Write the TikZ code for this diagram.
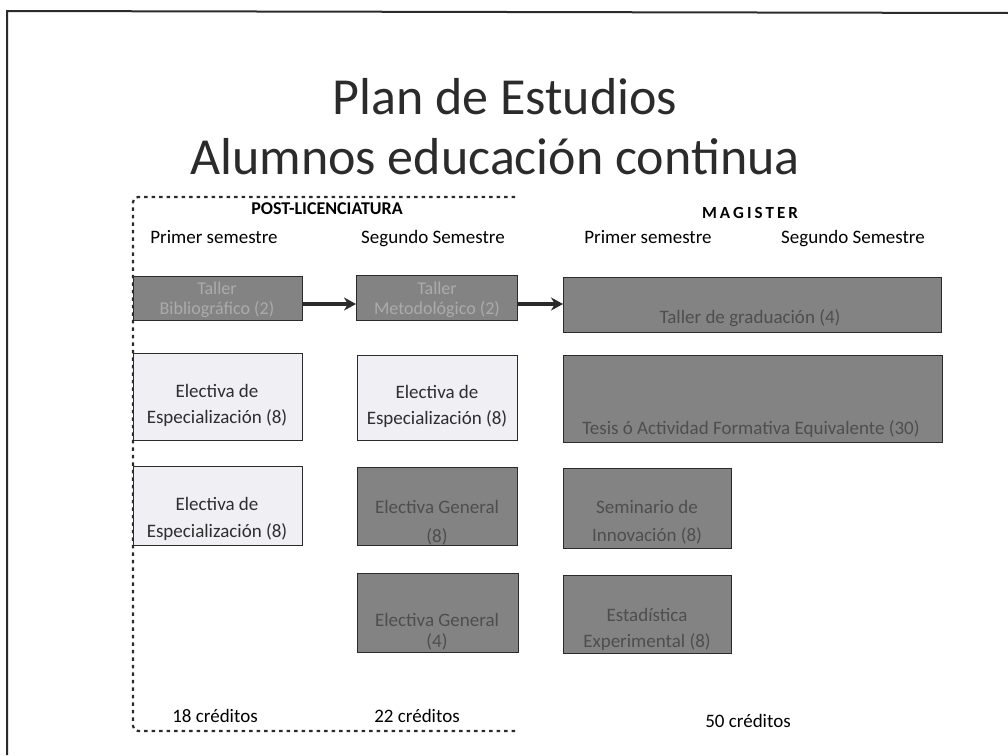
\documentclass[tikz,border=0pt]{standalone}
\usepackage{fontspec}
\setmainfont{Carlito}
\usetikzlibrary{arrows.meta}
\definecolor{frame}{HTML}{2B2B2B}
\definecolor{darkfill}{HTML}{838383}
\definecolor{lightfill}{HTML}{EFEFF4}
\definecolor{palet}{HTML}{ABABAB}
\definecolor{deept}{HTML}{4E4E4E}
\definecolor{lightt}{HTML}{2E2E2E}
\begin{document}
\begin{tikzpicture}[x=1pt,y=-1pt,
  box/.style={draw=frame, line width=1.4pt, anchor=north west, inner sep=0pt},
  dbox/.style={box, fill=darkfill},
  lbox/.style={box, fill=lightfill},
  btxt/.style={align=center, inner sep=0pt, anchor=base},
  pale/.style={btxt, text=palet},
  deep/.style={btxt, text=deept},
  dark/.style={btxt, text=lightt},
  head/.style={inner sep=0pt, anchor=base, text=black, font=\fontsize{19}{22}\selectfont},
  arr/.style={draw=frame, line width=3.2pt, -{Stealth[length=12pt,width=13pt]}},
  dotline/.style={draw=frame, line width=2.2pt, dash pattern=on 3.5pt off 4pt},
]
\useasboundingbox (0,0) rectangle (1008,755);
% slide frame
\draw[frame, line width=2pt] (7,755) -- (7,11) -- (1008,13);

% title
\node[inner sep=0pt, font=\fontsize{52}{60}\selectfont, text=frame] (t1) at (505,97) {Plan de Estudios};
\node[inner sep=0pt, font=\fontsize{52}{60}\selectfont, text=frame] (t2) at (495,157) {Alumnos educación continua};

% dotted post-licenciatura frame
\draw[dotline, rounded corners=5pt] (515,197) -- (133,197) -- (133,731) -- (518,731);

% headings
\node[inner sep=0pt, anchor=base, font=\bfseries\fontsize{18}{20}\selectfont] (hpost) at (327,214) {POST-LICENCIATURA};
\node[inner sep=0pt, anchor=base, font=\bfseries\fontsize{17}{20}\selectfont\addfontfeature{LetterSpace=18}] (hmag) at (750,218) {MAGISTER};
\node[head] (s1) at (214,243) {Primer semestre};
\node[head] (s2) at (433,243) {Segundo Semestre};
\node[head] (s3) at (648,243) {Primer semestre};
\node[head] (s4) at (853,243) {Segundo Semestre};

% boxes
\node[dbox, minimum width=169pt, minimum height=44pt] (tb) at (133,276) {};
\node[dbox, minimum width=161pt, minimum height=45pt] (tm) at (356,275) {};
\node[dbox, minimum width=378pt, minimum height=55pt] (tg) at (563,277) {};
\node[lbox, minimum width=169pt, minimum height=87pt] (e1) at (133,353) {};
\node[lbox, minimum width=160pt, minimum height=85pt] (e2) at (357,355) {};
\node[dbox, minimum width=379pt, minimum height=87pt] (ts) at (563,355) {};
\node[lbox, minimum width=169pt, minimum height=79pt] (e3) at (133,466) {};
\node[dbox, minimum width=160pt, minimum height=78pt] (g8) at (357,467) {};
\node[dbox, minimum width=168pt, minimum height=80pt] (sm) at (563,468) {};
\node[dbox, minimum width=161pt, minimum height=79pt] (g4) at (357,573) {};
\node[dbox, minimum width=168pt, minimum height=78pt] (es) at (563,575) {};

% box texts (anchor = baseline of last line)
\node[pale, font=\fontsize{18}{19.5}\selectfont] (tbt) at (217,314) {Taller\\Bibliográfico (2)};
\node[pale, font=\fontsize{18}{19.5}\selectfont] (tmt) at (437,314) {Taller\\Metodológico (2)};
\node[deep, font=\fontsize{19}{24}\selectfont] (tgt) at (750,323) {Taller de graduación (4)};
\node[dark, font=\fontsize{19}{26}\selectfont] (e1t) at (217,423) {Electiva de\\Especialización (8)};
\node[dark, font=\fontsize{19}{26}\selectfont] (e2t) at (437,424) {Electiva de\\Especialización (8)};
\node[deep, font=\fontsize{19}{24}\selectfont] (tst) at (751,434) {Tesis ó Actividad Formativa Equivalente (30)};
\node[dark, font=\fontsize{19}{27}\selectfont] (e3t) at (217,537) {Electiva de\\Especialización (8)};
\node[deep, font=\fontsize{19}{29}\selectfont] (g8t) at (437,542) {Electiva General\\(8)};
\node[deep, font=\fontsize{19}{28}\selectfont] (smt) at (647,541) {Seminario de\\Innovación (8)};
\node[deep, font=\fontsize{19}{21}\selectfont] (g4t) at (437,647) {Electiva General\\(4)};
\node[deep, font=\fontsize{19}{26}\selectfont] (est) at (647,647) {Estadística\\Experimental (8)};

% arrows
\coordinate (ay) at (0,304);
\draw[arr] (tb.east |- ay) -- (tm.west |- ay);
\draw[arr] (tm.east |- ay) -- (tg.west |- ay);

% credits
\node[head] (c1) at (215,722) {18 créditos};
\node[head] (c2) at (417,722) {22 créditos};
\node[head] (c3) at (748,727) {50 créditos};
\end{tikzpicture}
\end{document}
